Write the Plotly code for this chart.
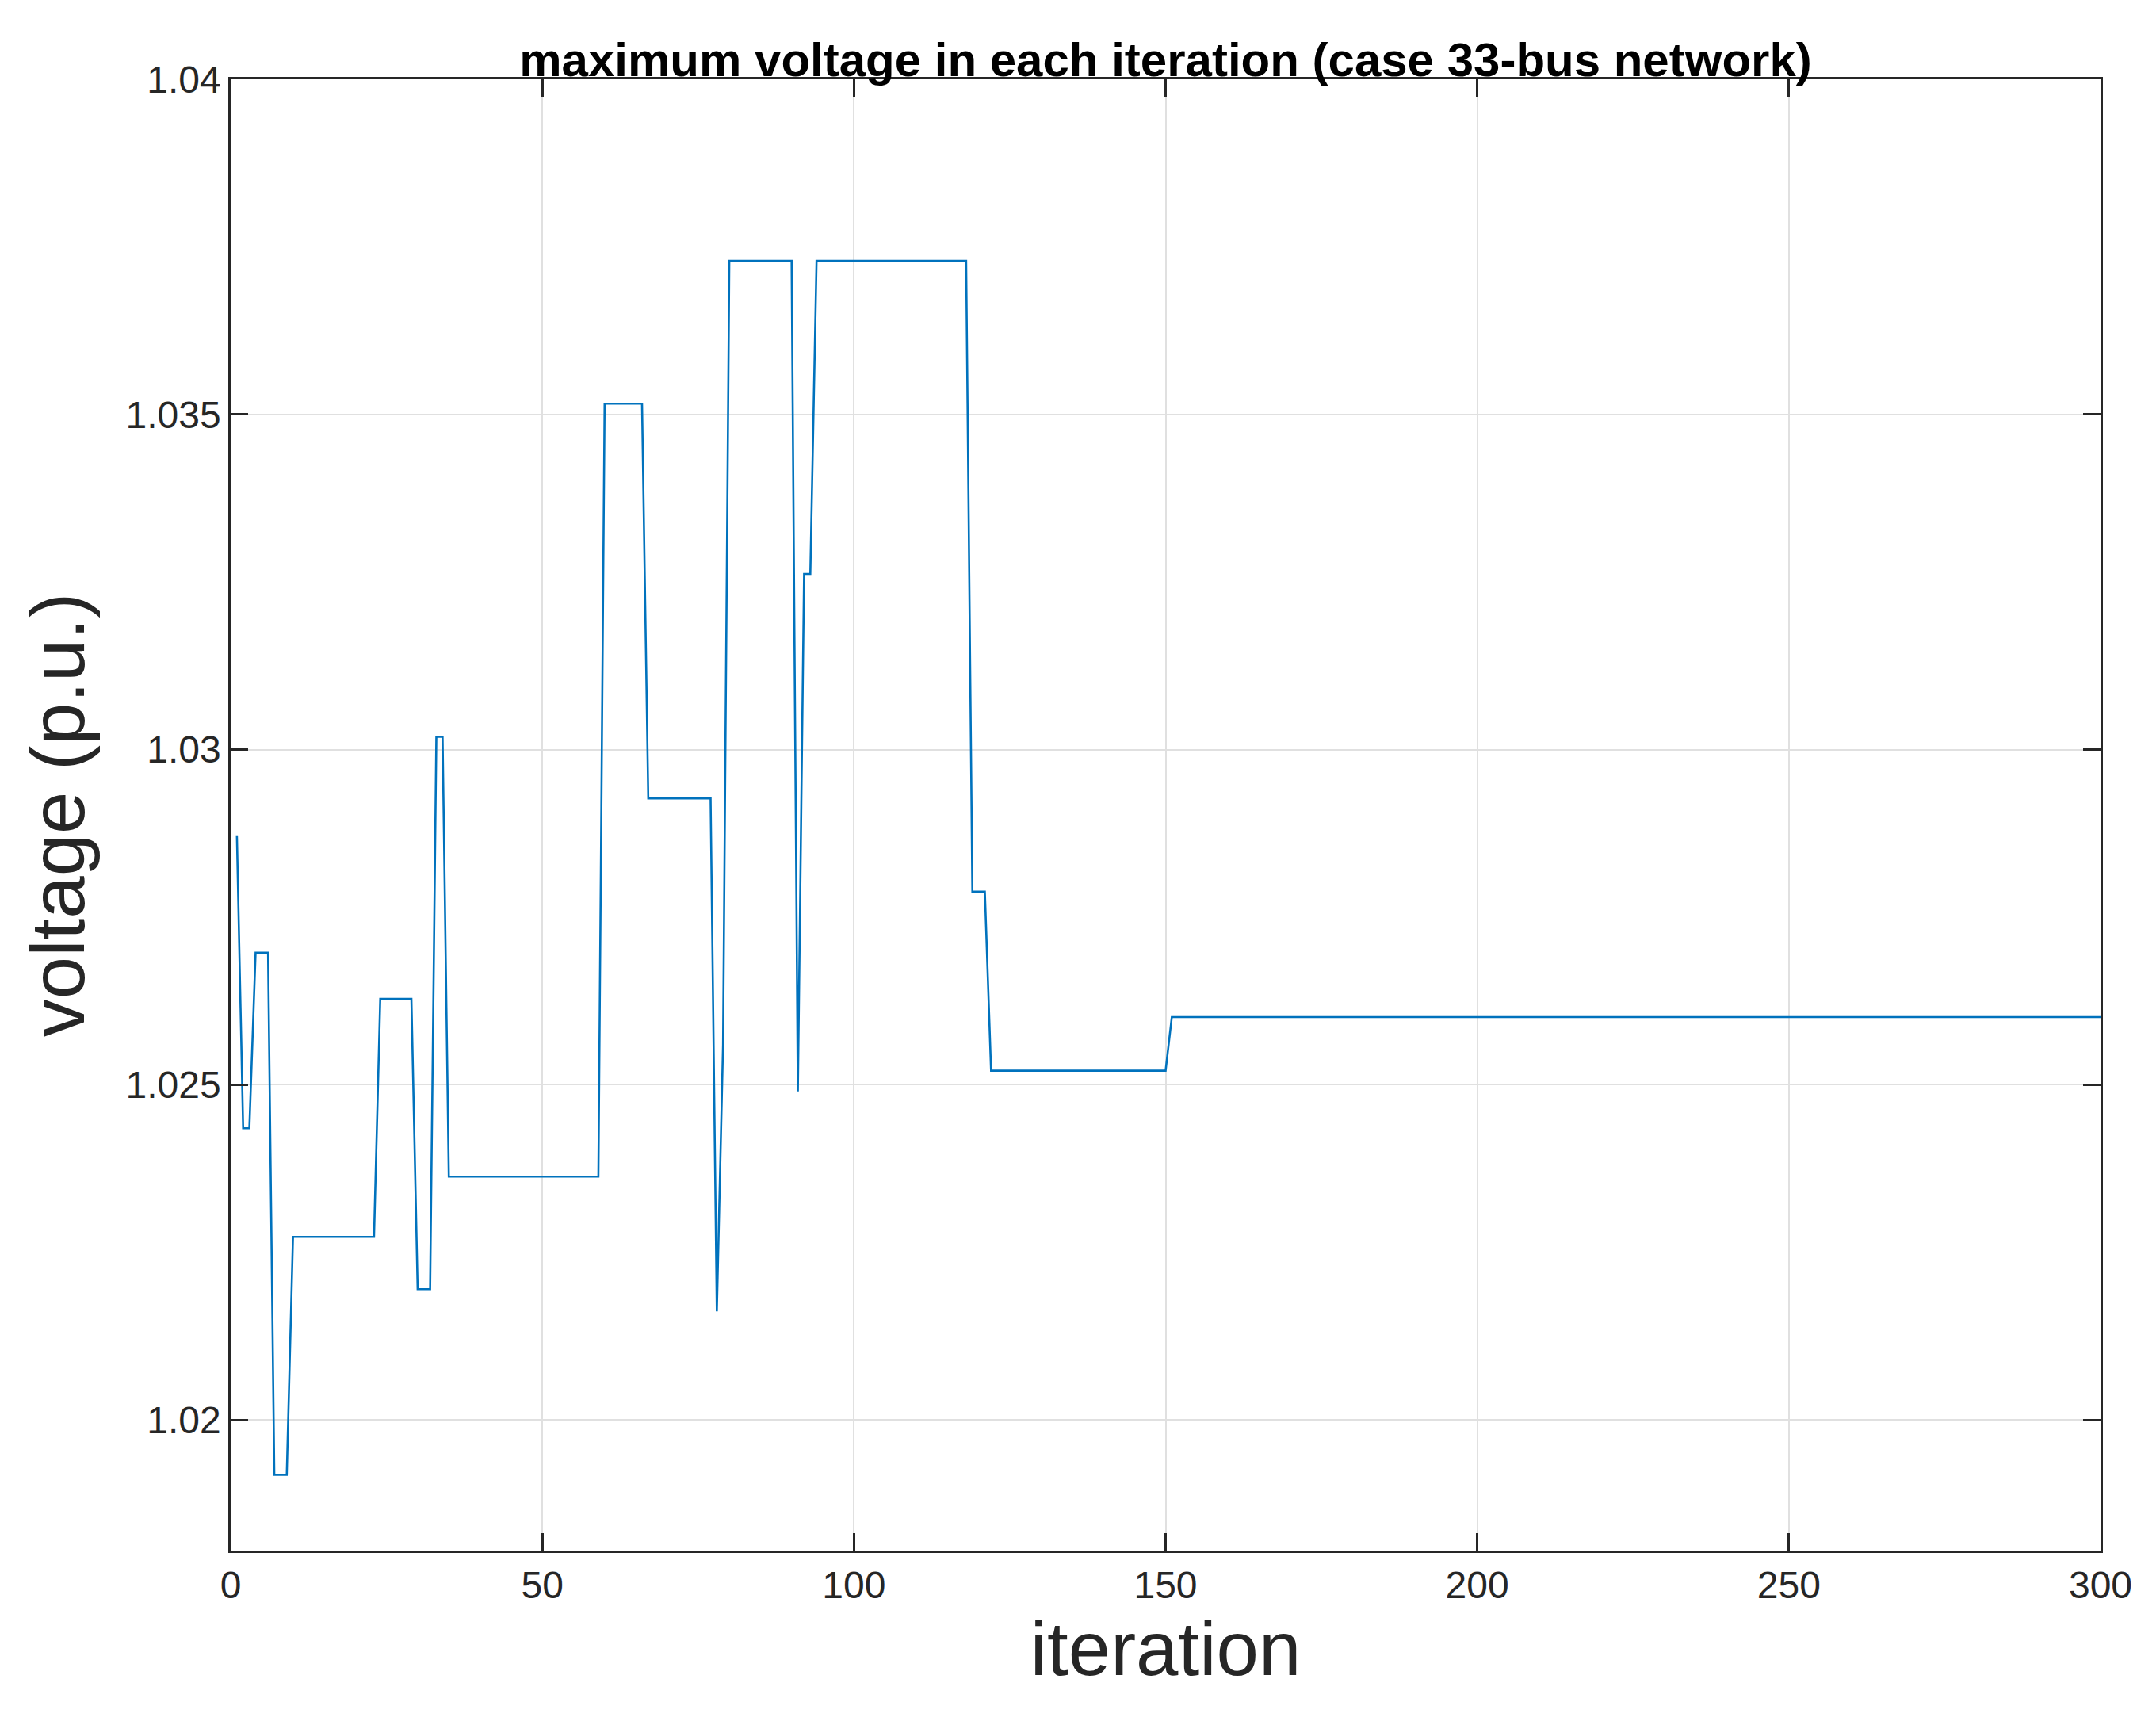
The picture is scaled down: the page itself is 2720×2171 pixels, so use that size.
import plotly.graph_objects as go

# runs of constant value: (first iteration, last iteration, voltage)
run_start = [1, 2, 4, 7, 10, 24, 30, 33, 35, 60, 67, 78, 79, 80, 91, 92, 94, 119, 122, 151]
run_end   = [1, 3, 6, 9, 23, 29, 32, 34, 59, 66, 77, 78, 79, 90, 91, 93, 118, 121, 150, 300]
run_value = [1.02872, 1.02435, 1.02697, 1.01918, 1.02273, 1.02628, 1.02195, 1.03019,
             1.02363, 1.03516, 1.02927, 1.02162, 1.02560, 1.03729, 1.02490, 1.03262,
             1.03729, 1.02788, 1.02521, 1.02601]

iteration = []
voltage = []
for s, e, v in zip(run_start, run_end, run_value):
    for i in range(s, e + 1):
        iteration.append(i)
        voltage.append(v)

x_ticks = [0, 50, 100, 150, 200, 250, 300]
y_ticks = [1.02, 1.025, 1.03, 1.035, 1.04]
y_tick_labels = ["1.02", "1.025", "1.03", "1.035", "1.04"]

fig = go.Figure(go.Scatter(x=iteration, y=voltage, mode="lines",
                           line=dict(color="#0072BD", width=2.6)))

axis_common = dict(showline=True, linecolor="#262626", linewidth=2.5, mirror="ticks",
                   ticks="inside", ticklen=22, tickwidth=2.5, tickcolor="#262626",
                   showgrid=True, gridcolor="#E0E0E0", gridwidth=2, zeroline=False,
                   tickfont=dict(size=48, color="#262626"))

fig.update_layout(
    width=2720, height=2171,
    margin=dict(l=283, r=78, t=92, b=223),
    paper_bgcolor="white", plot_bgcolor="white",
    font=dict(family="Liberation Sans, Arial, sans-serif", color="#262626"),
    title=dict(text="<b>maximum voltage in each iteration (case 33-bus network)</b>",
               x=0.5, xanchor="center", xref="paper", y=1, yref="paper",
               yanchor="bottom", pad=dict(b=4), font=dict(size=60, color="black")),
    showlegend=False,
)
fig.update_xaxes(range=[0, 300], tickvals=x_ticks,
                 title=dict(text="iteration", font=dict(size=96), standoff=20), **axis_common)
fig.update_yaxes(range=[1.01805, 1.04], tickvals=y_ticks, ticktext=y_tick_labels,
                 title=dict(text="voltage (p.u.)", font=dict(size=96), standoff=20), **axis_common)

fig.write_html("out.html")
